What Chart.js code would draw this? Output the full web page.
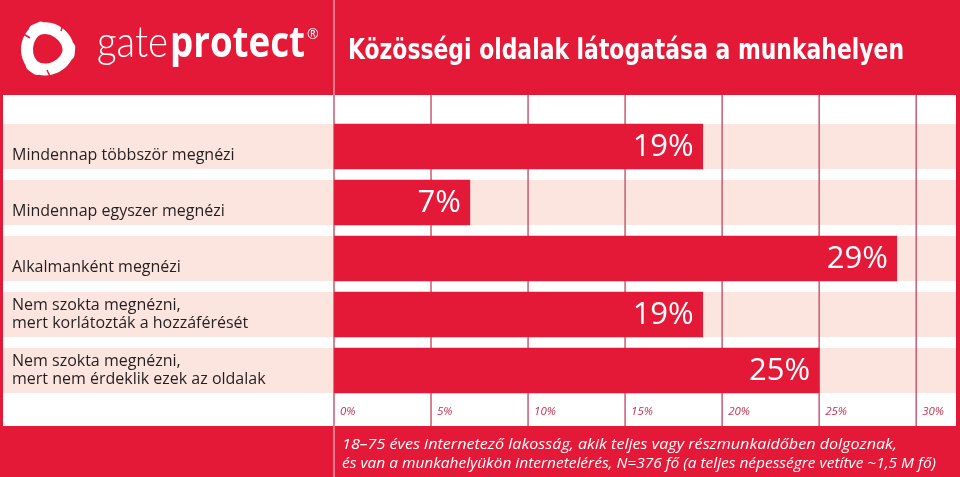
<!DOCTYPE html>
<html lang="hu">
<head>
<meta charset="utf-8">
<title>Közösségi oldalak látogatása a munkahelyen</title>
<script src="https://cdn.jsdelivr.net/npm/chart.js@4.4.1/dist/chart.umd.min.js"></script>
<style>
  html, body { margin: 0; padding: 0; background: #fff; }
  canvas { display: block; }
</style>
</head>
<body>
<canvas id="chart" width="960" height="477" style="width:960px;height:477px"></canvas>
<script>
// Data
const categories = [
    'Mindennap többször megnézi',
    'Mindennap egyszer megnézi',
    'Alkalmanként megnézi',
    ['Nem szokta megnézni,', 'mert korlátozták a hozzáférését'],
    ['Nem szokta megnézni,', 'mert nem érdeklik ezek az oldalak']
];
const values = [19, 7, 29, 19, 25];
const tickValues = [0, 5, 10, 15, 20, 25, 30];

const titleText = 'Közösségi oldalak látogatása a munkahelyen';
const noteLines = [
    '18–75 éves internetező lakosság, akik teljes vagy részmunkaidőben dolgoznak,',
    'és van a munkahelyükön internetelérés, N=376 fő (a teljes népességre vetítve ~1,5 M fő)'
];

const RED = '#e31937';
const PINK = '#fce4df';
const GRID = '#c95a72';

// draw text squeezed/stretched to a given width
function fitText(ctx, text, x, y, width) {
    const w = ctx.measureText(text).width;
    ctx.save();
    ctx.translate(x, y);
    ctx.scale(width / w, 1);
    ctx.fillText(text, 0, 0);
    ctx.restore();
}

function drawLogo(ctx) {
    // rounded triangle ring
    const cx = 47, cy = 49, r = 44;
    const pts = [185, -55, 65].map(a => [cx + r * Math.cos(a * Math.PI / 180), cy + r * Math.sin(a * Math.PI / 180)]);
    ctx.save();
    ctx.strokeStyle = '#fff';
    ctx.lineWidth = 12;
    ctx.lineJoin = 'round';
    ctx.beginPath();
    for (let i = 0; i < 3; i++) {
        const p = pts[i], n = pts[(i + 1) % 3];
        const mx = (p[0] + n[0]) / 2, my = (p[1] + n[1]) / 2;
        if (i === 0) ctx.moveTo((pts[2][0] + p[0]) / 2, (pts[2][1] + p[1]) / 2);
        ctx.arcTo(p[0], p[1], mx, my, 24);
    }
    ctx.closePath();
    ctx.stroke();
    // small cuts giving the swirl look
    ctx.strokeStyle = RED;
    ctx.lineWidth = 1.5;
    [[17, 30, 30, 38], [66, 15, 61, 31], [54, 85, 47, 70]].forEach(l => {
        ctx.beginPath();
        ctx.moveTo(l[0], l[1]);
        ctx.lineTo(l[2], l[3]);
        ctx.stroke();
    });
    ctx.restore();

    ctx.save();
    ctx.fillStyle = '#fff';
    ctx.textBaseline = 'alphabetic';
    ctx.font = "300 44px Lato, 'Open Sans', sans-serif";
    fitText(ctx, 'gate', 97, 57, 71);
    ctx.font = "bold 43px 'Open Sans', sans-serif";
    fitText(ctx, 'protect', 170, 57, 135);
    ctx.font = "14px 'Open Sans', sans-serif";
    ctx.fillText('®', 307, 39);
    ctx.restore();
}

const backgroundPlugin = {
    id: 'background',
    beforeDraw(chart) {
        const ctx = chart.ctx;
        const x = chart.scales.x, y = chart.scales.y;
        ctx.save();
        // red frame, white panel
        ctx.fillStyle = RED;
        ctx.fillRect(0, 0, chart.width, chart.height);
        ctx.fillStyle = '#fff';
        ctx.fillRect(3, 95, 953, 331);
        // pink row bands
        ctx.fillStyle = PINK;
        categories.forEach((c, i) => {
            const cy = y.getPixelForValue(i);
            ctx.fillRect(3, cy - 22.5, 953, 45);
        });
        // vertical grid lines
        ctx.strokeStyle = GRID;
        ctx.lineWidth = 1.5;
        tickValues.forEach(v => {
            const px = x.getPixelForValue(v);
            ctx.beginPath();
            ctx.moveTo(px, 95);
            ctx.lineTo(px, 426);
            ctx.stroke();
        });
        // light separator in header and footer
        const x0 = x.getPixelForValue(0);
        ctx.strokeStyle = 'rgba(255,255,255,0.55)';
        ctx.beginPath();
        ctx.moveTo(x0, 0); ctx.lineTo(x0, 95);
        ctx.moveTo(x0, 426); ctx.lineTo(x0, 477);
        ctx.stroke();

        drawLogo(ctx);

        // title
        ctx.fillStyle = '#fff';
        ctx.textBaseline = 'alphabetic';
        ctx.font = "bold 29px 'Liberation Sans Narrow', 'DejaVu Sans Condensed', 'Open Sans', sans-serif";
        fitText(ctx, titleText, 348, 59, 556);

        // footnote
        ctx.font = "italic 15px 'Open Sans', sans-serif";
        fitText(ctx, noteLines[0], 342, 449, 555);
        fitText(ctx, noteLines[1], 342, 468, 594);
        ctx.restore();
    }
};

const valueLabelPlugin = {
    id: 'valueLabels',
    afterDatasetsDraw(chart) {
        const ctx = chart.ctx;
        const meta = chart.getDatasetMeta(0);
        ctx.save();
        ctx.fillStyle = '#fff';
        ctx.font = "31px 'Open Sans', sans-serif";
        ctx.textAlign = 'right';
        ctx.textBaseline = 'middle';
        meta.data.forEach((bar, i) => {
            ctx.fillText(values[i] + '%', bar.x - 9, bar.y + 1);
        });
        ctx.restore();
    }
};

new Chart(document.getElementById('chart'), {
    type: 'bar',
    data: {
        labels: categories,
        datasets: [{
            data: values,
            backgroundColor: RED,
            borderWidth: 0,
            barThickness: 45
        }]
    },
    options: {
        indexAxis: 'y',
        responsive: false,
        animation: false,
        layout: { padding: { left: 12, right: 5, top: 118.5, bottom: 52 } },
        plugins: {
            legend: { display: false },
            tooltip: { enabled: false }
        },
        scales: {
            x: {
                position: 'bottom',
                min: 0,
                max: 32,
                afterBuildTicks(scale) {
                    scale.ticks = tickValues.map(v => ({ value: v }));
                },
                afterFit(scale) { scale.height = 26.5; },
                grid: { display: false, drawTicks: false },
                border: { display: false },
                ticks: {
                    align: 'start',
                    labelOffset: 6,
                    padding: 6,
                    color: '#c4314b',
                    font: { family: "'Open Sans', sans-serif", size: 11.5, style: 'italic' },
                    callback: v => v + '%'
                }
            },
            y: {
                position: 'left',
                afterFit(scale) { scale.width = 322; },
                grid: { display: false, drawTicks: false },
                border: { display: false },
                ticks: {
                    crossAlign: 'far',
                    color: '#231f20',
                    font: { family: "'Open Sans', sans-serif", size: 16, lineHeight: 1.125 },
                    callback(value) {
                        const l = this.getLabelForValue(value);
                        return Array.isArray(l) ? l : ['', l];
                    }
                }
            }
        }
    },
    plugins: [backgroundPlugin, valueLabelPlugin]
});
</script>
</body>
</html>
